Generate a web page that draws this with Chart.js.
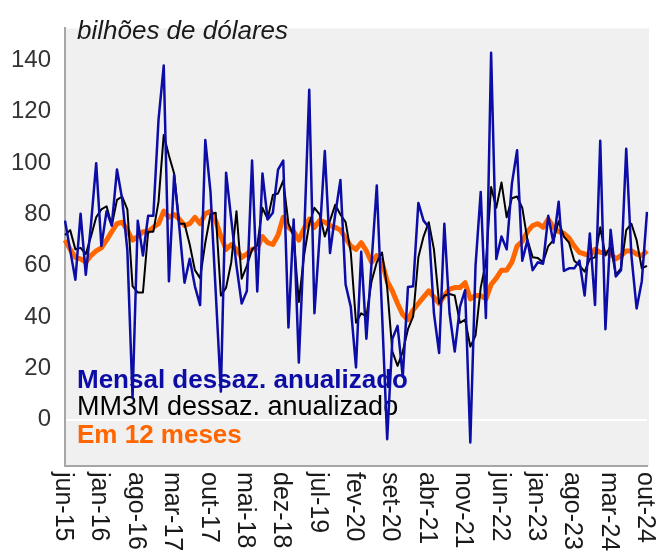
<!DOCTYPE html>
<html>
<head>
<meta charset="utf-8">
<script src="https://cdn.jsdelivr.net/npm/chart.js@4.4.0/dist/chart.umd.min.js"></script>
<style>
  html, body { margin: 0; padding: 0; background: #fff; }
</style>
</head>
<body>
<canvas id="chart" width="660" height="554"></canvas>
<script>
const monthNames = ['jan', 'fev', 'mar', 'abr', 'mai', 'jun', 'jul', 'ago', 'set', 'out', 'nov', 'dez'];

// jun-15 ... out-24
const categories = [];
for (let k = 0; k < 113; k++) {
  const m = (5 + k) % 12;
  const y = 15 + Math.floor((5 + k) / 12);
  categories.push(monthNames[m] + '-' + y);
}

const mensal = [
  77.6, 66, 54.6, 80.3, 56.5, 76, 100, 67.7, 81.3, 75.7,
  97.5, 86, 66, 8.6, 77.6, 64, 79.5, 79.5, 117, 138,
  54, 95.3, 75, 53.4, 62.7, 52, 44.7, 109, 88.8, 50,
  11, 96.3, 78, 60, 45.3, 50.2, 101, 50, 96, 78,
  80.7, 97.5, 101, 36, 78, 22.3, 70, 128.6, 41.5, 71.4,
  104.7, 65, 80, 93.4, 52.7, 44, 20.4, 65.5, 31.6, 61.4,
  91.3, 42, -7.6, 31.6, 36.6, 16.7, 51.7, 52, 84.5, 77.6,
  75, 41.5, 26, 76.4, 41.5, 26.6, 44, 50.5, -8.8, 60,
  88.8, 39.7, 143, 62.7, 71.4, 66.4, 92, 105, 62, 70,
  58.3, 61.4, 60.8, 79.5, 69, 85, 58, 59, 59, 62,
  48.4, 72.6, 44.7, 108.7, 35.3, 74, 55.8, 58.3, 105.6, 64,
  43.4, 54, 81
];

const mm3m = [
  72, 73.9, 66.4, 67, 64.6, 71.4, 78.9, 82, 83.2, 75.7,
  85.7, 87, 82, 52.1, 49.6, 49.6, 73.3, 73.3, 85, 111,
  103, 96, 76.4, 76.4, 68.3, 58.3, 55.2, 69, 80, 80.7,
  48.4, 51.5, 61.4, 81.3, 55, 60, 66.4, 68, 82.6, 78.2,
  87.6, 88.2, 93.2, 76.4, 71.4, 45.9, 64, 76.4, 82.6, 80,
  71.4, 77.6, 83.8, 80, 77, 65.2, 37.8, 41.5, 40.3, 54,
  61.4, 65.2, 51.5, 26.6, 21, 26.6, 35.3, 40.3, 63.3, 71.4,
  77, 66.4, 45.3, 48.4, 49, 48.4, 37.8, 39, 28.5, 32.8,
  51.5, 61.4, 90.7, 82.6, 92.5, 78.9, 86.3, 87, 82.6, 70,
  63.3, 63, 61.4, 67.7, 70, 77.4, 71.4, 69, 62, 60.2,
  57.7, 62.7, 63.3, 75, 64, 67.7, 56.5, 59, 73.9, 76.4,
  70, 59, 60
];

const em12meses = [
  70, 66.4, 63.3, 62.7, 61.4, 64, 65.8, 67, 70, 73.3,
  76.4, 77, 73.9, 70, 71.4, 73.3, 73.3, 75, 76.4, 81.3,
  78.9, 80, 78.2, 75.7, 76.4, 78.9, 76.4, 80.3, 81.3, 77.6,
  71.4, 66.4, 68.3, 66.4, 63.3, 64.6, 66.4, 67, 71.4, 69,
  68.3, 72, 78.9, 75, 73.3, 70, 74.5, 78.2, 75, 77.6,
  77, 75.7, 75, 73.9, 70.8, 67.7, 66.4, 69, 65.8, 61.4,
  64, 61.4, 54, 50.2, 45.3, 41, 39, 42.8, 45.3, 47.8,
  50.2, 47.8, 45.3, 48.4, 50.9, 51.5, 51.5, 53.4, 47.1, 48.4,
  48.4, 47.1, 52.7, 55.2, 58.3, 58.3, 61.4, 67.7, 69.5, 73.3,
  75.7, 76.4, 75, 78.2, 75, 73.3, 72.6, 70.8, 67.7, 65.2,
  64.6, 64, 66.4, 65.2, 65.2, 64.6, 62.7, 64, 65.8, 65.8,
  64.6, 64, 65.8
];

const yTicks = [0, 20, 40, 60, 80, 100, 120, 140];
const xTickEvery = 7;

const seriesNames = ['Mensal dessaz. anualizado', 'MM3M dessaz. anualizado', 'Em 12 meses'];
const seriesColors = ['#0c0ca6', '#000000', '#ff6600'];
const unitLabel = 'bilhões de dólares';

const FONT = "'Liberation Sans', Arial, sans-serif";

const plotBackground = {
  id: 'plotBackground',
  beforeDraw(chart) {
    const { ctx, chartArea: a } = chart;
    ctx.save();
    ctx.fillStyle = '#f0f0f0';
    ctx.fillRect(a.left, a.top, a.right - a.left + 2, a.bottom - a.top);
    ctx.restore();
  }
};

// title and legend text inside the plot
const insideText = {
  id: 'insideText',
  beforeDatasetsDraw(chart) {
    const { ctx, chartArea: a } = chart;
    ctx.save();
    ctx.textAlign = 'left';
    ctx.textBaseline = 'alphabetic';
    ctx.fillStyle = '#1a1a1a';
    ctx.font = 'italic 26px ' + FONT;
    ctx.fillText(unitLabel, a.left + 12, 39);
    const fonts = ['bold 26px ', '27px ', 'bold 26px '];
    const baselines = [388, 415, 443];
    seriesNames.forEach((name, i) => {
      ctx.font = fonts[i] + FONT;
      ctx.fillStyle = seriesColors[i];
      ctx.fillText(name, a.left + 12, baselines[i]);
    });
    ctx.restore();
  }
};

// x labels turned clockwise, read top to bottom
const xLabels = {
  id: 'xLabels',
  afterDraw(chart) {
    const { ctx, chartArea: a } = chart;
    const xs = chart.scales.x;
    ctx.save();
    ctx.fillStyle = '#1a1a1a';
    ctx.font = '25px ' + FONT;
    ctx.textAlign = 'left';
    ctx.textBaseline = 'middle';
    for (let i = 0; i < categories.length; i += xTickEvery) {
      const x = xs.getPixelForValue(i);
      ctx.save();
      ctx.translate(x - 2, a.bottom + 6);
      ctx.rotate(Math.PI / 2);
      ctx.fillText(categories[i], 0, 0);
      ctx.restore();
    }
    ctx.restore();
  }
};

new Chart(document.getElementById('chart'), {
  type: 'line',
  data: {
    labels: categories,
    datasets: [
      { label: seriesNames[0], data: mensal, borderColor: seriesColors[0], borderWidth: 2.5, order: 1 },
      { label: seriesNames[1], data: mm3m, borderColor: seriesColors[1], borderWidth: 2, order: 2 },
      { label: seriesNames[2], data: em12meses, borderColor: seriesColors[2], borderWidth: 5, order: 3 }
    ]
  },
  options: {
    responsive: false,
    devicePixelRatio: 1,
    animation: false,
    layout: { padding: { top: 9, right: 13, left: 0, bottom: 0 } },
    elements: {
      point: { radius: 0 },
      line: { tension: 0, borderJoinStyle: 'round' }
    },
    plugins: {
      legend: { display: false },
      tooltip: { enabled: false }
    },
    scales: {
      x: {
        type: 'category',
        offset: false,
        grid: { display: false, drawTicks: false },
        border: { display: true, color: '#a6a6a6', width: 2 },
        ticks: { display: false },
        afterFit: s => { s.height = 88; }
      },
      y: {
        min: -18,
        max: 152.5,
        afterBuildTicks: s => { s.ticks = yTicks.map(v => ({ value: v })); },
        grid: {
          color: c => (c.tick && c.tick.value === 0 ? '#ffffff' : 'rgba(0,0,0,0)'),
          lineWidth: 2,
          drawTicks: false
        },
        border: { display: true, color: '#a6a6a6', width: 2 },
        ticks: { color: '#333', font: { family: FONT, size: 24 }, padding: 14 },
        afterFit: s => { s.width = 65; }
      }
    }
  },
  plugins: [plotBackground, insideText, xLabels]
});
</script>
</body>
</html>
